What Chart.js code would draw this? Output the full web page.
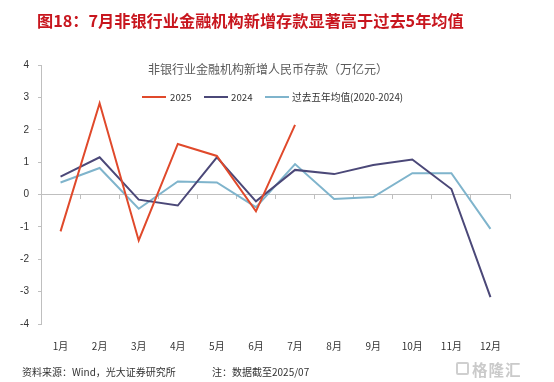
<!DOCTYPE html>
<html>
<head>
<meta charset="utf-8">
<script src="https://cdn.jsdelivr.net/npm/chart.js@4.4.1/dist/chart.umd.min.js"></script>
<style>
  html, body { margin: 0; padding: 0; background: #ffffff; }
  #wrap { position: relative; width: 554px; height: 382px; overflow: hidden; }
  #c { position: absolute; left: 0; top: 0; }
  .txt { position: absolute; white-space: nowrap; font-family: "Noto Sans CJK SC", "Noto Sans", sans-serif; }
  #title { left: 37px; top: 8px; font-size: 16.2px; font-weight: bold; color: #C8161E; letter-spacing: 0px; }
  #src { left: 22px; top: 364px; font-size: 10px; color: #333333; }
  #note { left: 212px; top: 364px; font-size: 10px; color: #333333; }
  #wm { left: 472px; top: 358px; font-size: 15.5px; color: #cacaca; font-weight: bold; letter-spacing: 1px; }
  #wmbox { position: absolute; left: 456px; top: 362px; width: 13px; height: 13px; border: 2px solid #cfcfcf; border-radius: 2px; box-sizing: border-box; }
</style>
</head>
<body>
<div id="wrap">
  <canvas id="c" width="554" height="382"></canvas>
  <div id="title" class="txt">图18：7月非银行业金融机构新增存款显著高于过去5年均值</div>
  <div id="src" class="txt">资料来源：Wind，光大证券研究所</div>
  <div id="note" class="txt">注：数据截至2025/07</div>
  <div id="wmbox"></div>
  <div id="wm" class="txt">格隆汇</div>
</div>
<script>
// ---- data ----
const months = ["1月","2月","3月","4月","5月","6月","7月","8月","9月","10月","11月","12月"];
const yTicks = [-4,-3,-2,-1,0,1,2,3,4];
const chartTitle = "非银行业金融机构新增人民币存款（万亿元）";
const seriesNames = ["2025", "2024", "过去五年均值(2020-2024)"];
const s2025 = [-1.14, 2.82, -1.42, 1.56, 1.19, -0.52, 2.15];
const s2024 = [0.55, 1.15, -0.16, -0.34, 1.15, -0.21, 0.76, 0.63, 0.91, 1.08, 0.17, -3.17];
const sAvg  = [0.37, 0.82, -0.44, 0.40, 0.37, -0.39, 0.94, -0.14, -0.08, 0.66, 0.66, -1.06];

const colors = ["#E0492B", "#4B4878", "#7FB4CC"];

const overlay = {
  id: 'overlay',
  afterDraw(chart) {
    const ctx = chart.ctx;
    ctx.save();
    ctx.fillStyle = '#5a5a5a';
    ctx.font = '12px "Noto Sans CJK SC", sans-serif';
    ctx.textAlign = 'left';
    ctx.textBaseline = 'middle';
    ctx.fillText(chartTitle, 148, 69);
    // legend
    const ly = 97;
    const items = [
      {x: 142, tx: 170},
      {x: 204, tx: 231},
      {x: 265, tx: 292}
    ];
    ctx.font = '9.7px "Noto Sans CJK SC", sans-serif';
    chart.data.datasets.forEach((ds, i) => {
      const it = items[i];
      ctx.strokeStyle = ds.borderColor;
      ctx.lineWidth = 2;
      ctx.beginPath();
      ctx.moveTo(it.x, ly);
      ctx.lineTo(it.x + 24, ly);
      ctx.stroke();
      ctx.fillStyle = '#333333';
      ctx.fillText(ds.label, it.tx, ly + 0.5);
    });
    ctx.restore();
  }
};

new Chart(document.getElementById('c'), {
  type: 'line',
  data: {
    labels: months,
    datasets: [
      { label: seriesNames[0], data: s2025, borderColor: colors[0], backgroundColor: colors[0], borderWidth: 2, pointRadius: 0, tension: 0, xAxisID: 'x', yAxisID: 'y' },
      { label: seriesNames[1], data: s2024, borderColor: colors[1], backgroundColor: colors[1], borderWidth: 2, pointRadius: 0, tension: 0, xAxisID: 'x', yAxisID: 'y' },
      { label: seriesNames[2], data: sAvg, borderColor: colors[2], backgroundColor: colors[2], borderWidth: 2, pointRadius: 0, tension: 0, xAxisID: 'x', yAxisID: 'y' }
    ]
  },
  options: {
    responsive: false,
    animation: false,
    devicePixelRatio: 1,
    layout: { padding: { left: 0, right: 44, top: 65, bottom: 0 } },
    plugins: { legend: { display: false }, title: { display: false }, tooltip: { enabled: false } },
    scales: {
      x: {
        type: 'category',
        position: 'bottom',
        offset: true,
        border: { display: false },
        grid: { display: false },
        ticks: { color: '#333333', padding: 8, maxRotation: 0, autoSkip: false, font: { size: 10, family: '"Noto Sans CJK SC", sans-serif' } },
        afterFit(scale) { scale.height = 58; }
      },
      x2: {
        type: 'category',
        position: { y: 0 },
        offset: true,
        border: { display: true, color: '#BFBFBF', width: 1 },
        grid: { display: true, drawOnChartArea: false, drawTicks: true, tickLength: 4, color: '#BFBFBF', offset: true },
        ticks: { display: false }
      },
      y: {
        min: -4, max: 4,
        afterBuildTicks(scale) { scale.ticks = yTicks.map(v => ({ value: v })); },
        border: { display: true, color: '#BFBFBF', width: 1 },
        grid: { display: true, drawOnChartArea: false, drawTicks: true, tickLength: 3, color: '#BFBFBF' },
        ticks: { color: '#333333', padding: 9, font: { size: 10, family: '"Liberation Sans", sans-serif' } },
        afterFit(scale) { scale.width = 41; }
      }
    }
  },
  plugins: [overlay]
});
</script>
</body>
</html>
